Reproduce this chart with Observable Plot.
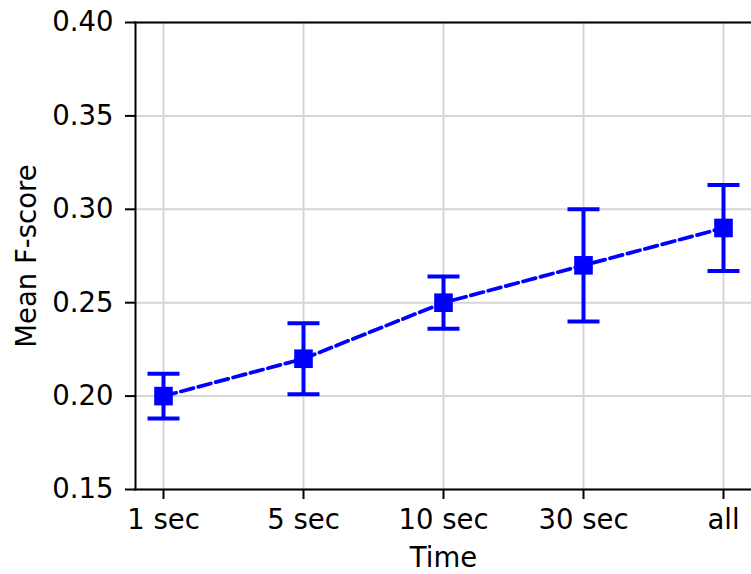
<!DOCTYPE html>
<html>
<head>
<meta charset="utf-8">
<script src="https://cdn.jsdelivr.net/npm/d3@7"></script>
<script src="https://cdn.jsdelivr.net/npm/@observablehq/plot@0.6"></script>
<style>
  html, body { margin: 0; padding: 0; background: #fff; overflow: hidden; }
</style>
</head>
<body>
<div id="chart"></div>
<script>
// Time windows on the x axis
const times = ["1 sec", "5 sec", "10 sec", "30 sec", "all"];
// Mean F-score for each window
const means = [0.20, 0.22, 0.25, 0.27, 0.29];
// Lower and upper ends of the error bars
const lower = [0.188, 0.201, 0.236, 0.240, 0.267];
const upper = [0.212, 0.239, 0.264, 0.300, 0.313];
// Y axis tick values
const yTicks = [0.15, 0.20, 0.25, 0.30, 0.35, 0.40];

const rows = times.map((t, i) => ({time: t, mean: means[i], lo: lower[i], hi: upper[i]}));

const blue = "#0000ff";
const grid = "#d6d6d6";
const fontSize = 27.5;

// horizontal bar used as the error-bar cap
const cap = {
  draw(context, size) {
    const w = Math.sqrt(size / Math.PI);
    context.moveTo(-w, 0);
    context.lineTo(w, 0);
  }
};

const chart = Plot.plot({
  width: 751,
  height: 574,
  marginLeft: 135,
  marginRight: 0,
  marginTop: 22,
  marginBottom: 85,
  style: {fontFamily: "'DejaVu Sans', sans-serif", color: "#000", background: "#fff", overflow: "visible"},
  x: {type: "point", domain: times, padding: 0.2},
  y: {type: "linear", domain: [0.15, 0.40]},
  marks: [
    Plot.gridX(times, {stroke: grid, strokeOpacity: 1, strokeWidth: 2}),
    Plot.gridY(yTicks, {stroke: grid, strokeOpacity: 1, strokeWidth: 2}),
    Plot.frame({anchor: "left", stroke: "#000", strokeWidth: 2}),
    Plot.frame({anchor: "top", stroke: "#000", strokeWidth: 2}),
    Plot.frame({anchor: "bottom", stroke: "#000", strokeWidth: 2}),
    Plot.axisY(yTicks, {tickSize: 10, tickPadding: 12, fontSize, tickFormat: d3.format(".2f"), label: null, strokeWidth: 2}),
    Plot.axisX(times, {tickSize: 10, tickPadding: 10, fontSize, label: null, strokeWidth: 2}),
    Plot.text(["Mean F-score"], {frameAnchor: "left", textAnchor: "middle", dx: -108, rotate: -90, fontSize, text: d => d}),
    Plot.text(["Time"], {frameAnchor: "bottom", dy: 77, fontSize, text: d => d}),
    Plot.ruleX(rows, {x: "time", y1: "lo", y2: "hi", stroke: blue, strokeWidth: 4}),
    Plot.dot(rows, {x: "time", y: "lo", symbol: cap, r: 16, stroke: blue, strokeWidth: 4}),
    Plot.dot(rows, {x: "time", y: "hi", symbol: cap, r: 16, stroke: blue, strokeWidth: 4}),
    Plot.line(rows, {x: "time", y: "mean", stroke: blue, strokeWidth: 3.75, strokeDasharray: "13,5"}),
    Plot.dot(rows, {x: "time", y: "mean", symbol: "square", r: 10.5, fill: blue})
  ]
});

document.getElementById("chart").appendChild(chart);
</script>
</body>
</html>
